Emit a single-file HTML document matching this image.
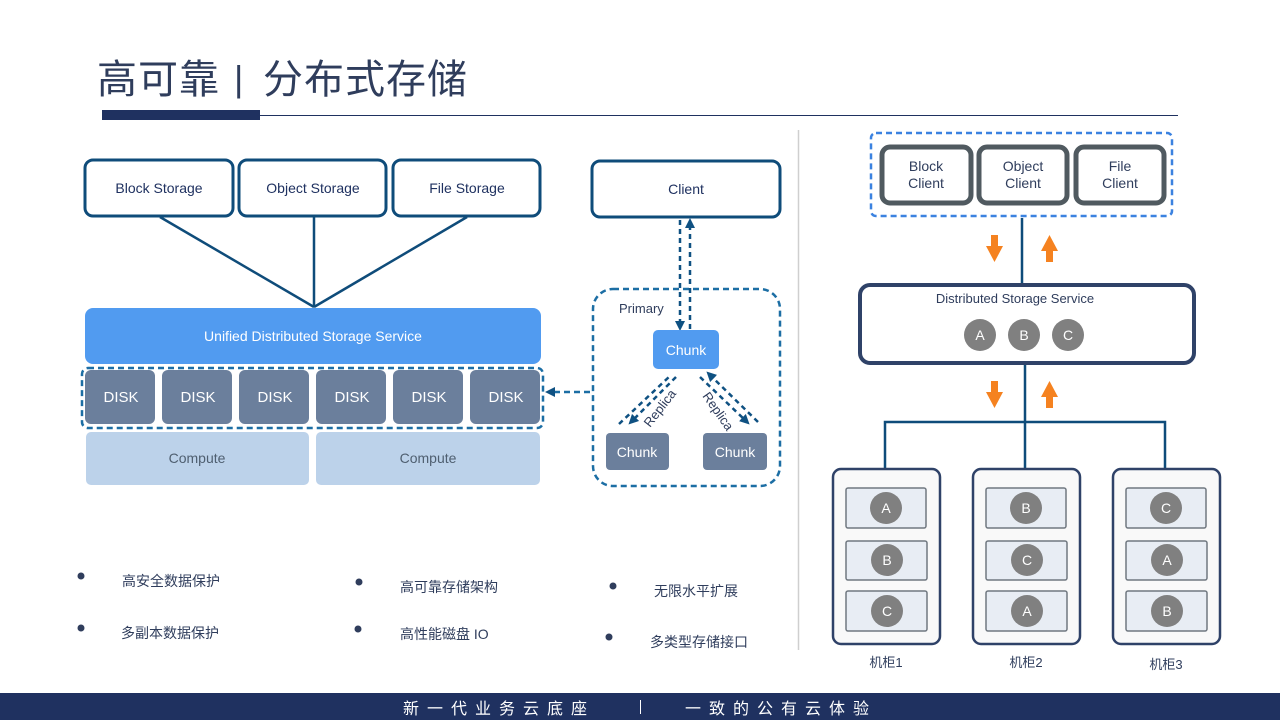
<!DOCTYPE html>
<html><head><meta charset="utf-8"><style>
html,body{margin:0;padding:0;background:#fff;width:1280px;height:720px;overflow:hidden}
svg text{font-family:"Liberation Sans","Noto Sans CJK SC",sans-serif}
</style></head><body>
<svg width="1280" height="720" viewBox="0 0 1280 720" xmlns="http://www.w3.org/2000/svg">
<defs>
<marker id="ah" viewBox="0 0 10 10" refX="5" refY="5" markerWidth="4" markerHeight="4" orient="auto-start-reverse"><path d="M0,0 L10,5 L0,10 z" fill="#0f5182"/></marker>
</defs>
<!-- title -->
<text x="97" y="93" font-size="40" fill="#2f3d5c" letter-spacing="1">高可靠</text>
<text x="234" y="91" font-size="36" fill="#2f3d5c">|</text>
<text x="263" y="93" font-size="40" fill="#2f3d5c" letter-spacing="1">分布式存储</text>
<rect x="102" y="110" width="158" height="10" fill="#1f3160"/>
<line x1="260" y1="115.5" x2="1178" y2="115.5" stroke="#1f3160" stroke-width="1"/>

<!-- left storage boxes -->
<g fill="#fff" stroke="#0f4c7a" stroke-width="3">
<rect x="85" y="160" width="148" height="56" rx="8"/>
<rect x="239" y="160" width="147" height="56" rx="8"/>
<rect x="393" y="160" width="147" height="56" rx="8"/>
</g>
<g font-size="14" fill="#1f3160" text-anchor="middle">
<text x="159" y="193">Block Storage</text>
<text x="313" y="193">Object Storage</text>
<text x="467" y="193">File Storage</text>
</g>
<g stroke="#0f4c7a" stroke-width="2.5">
<line x1="160" y1="217" x2="314" y2="307"/>
<line x1="314" y1="217" x2="314" y2="307"/>
<line x1="467" y1="217" x2="314" y2="307"/>
</g>
<rect x="85" y="308" width="456" height="56" rx="8" fill="#519bf0"/>
<text x="313" y="341" font-size="14" fill="#fff" text-anchor="middle">Unified Distributed Storage Service</text>
<g fill="#6b7f9c">
<rect x="85" y="370" width="70" height="54" rx="6"/>
<rect x="162" y="370" width="70" height="54" rx="6"/>
<rect x="239" y="370" width="70" height="54" rx="6"/>
<rect x="316" y="370" width="70" height="54" rx="6"/>
<rect x="393" y="370" width="70" height="54" rx="6"/>
<rect x="470" y="370" width="70" height="54" rx="6"/>
</g>
<g font-size="15" fill="#fff" text-anchor="middle">
<text x="121" y="402">DISK</text><text x="198" y="402">DISK</text><text x="275" y="402">DISK</text>
<text x="352" y="402">DISK</text><text x="429" y="402">DISK</text><text x="506" y="402">DISK</text>
</g>
<rect x="82" y="368" width="461" height="60" rx="6" fill="none" stroke="#1c6ea4" stroke-width="2.5" stroke-dasharray="6,4"/>
<rect x="86" y="432" width="223" height="53" rx="5" fill="#bcd2ea"/>
<rect x="316" y="432" width="224" height="53" rx="5" fill="#bcd2ea"/>
<text x="197" y="463" font-size="14" fill="#4f5f70" text-anchor="middle">Compute</text>
<text x="428" y="463" font-size="14" fill="#4f5f70" text-anchor="middle">Compute</text>
<line x1="590" y1="392" x2="550" y2="392" stroke="#1c6ea4" stroke-width="2.5" stroke-dasharray="6,4" marker-end="url(#ah)"/>

<!-- client / chunks -->
<rect x="592" y="161" width="188" height="56" rx="8" fill="#fff" stroke="#0f4c7a" stroke-width="3"/>
<text x="686" y="194" font-size="14" fill="#1f3160" text-anchor="middle">Client</text>
<rect x="593" y="289" width="187" height="197" rx="20" fill="none" stroke="#1c6ea4" stroke-width="2.5" stroke-dasharray="6,4"/>
<text x="619" y="313" font-size="13" fill="#2f3d5c">Primary</text>
<line x1="680" y1="220" x2="680" y2="326" stroke="#0f5182" stroke-width="2.5" stroke-dasharray="5,4" marker-end="url(#ah)"/>
<line x1="690" y1="329" x2="690" y2="223" stroke="#0f5182" stroke-width="2.5" stroke-dasharray="5,4" marker-end="url(#ah)"/>
<rect x="653" y="330" width="66" height="39" rx="5" fill="#519bf0"/>
<text x="686" y="355" font-size="14" fill="#fff" text-anchor="middle">Chunk</text>
<rect x="606" y="433" width="63" height="37" rx="4" fill="#6b7f9c"/>
<rect x="703" y="433" width="64" height="37" rx="4" fill="#6b7f9c"/>
<text x="637" y="457" font-size="14" fill="#fff" text-anchor="middle">Chunk</text>
<text x="735" y="457" font-size="14" fill="#fff" text-anchor="middle">Chunk</text>
<g stroke="#0f5182" stroke-width="2.5" stroke-dasharray="5,4">
<line x1="619" y1="424" x2="670" y2="376"/>
<line x1="676" y1="377" x2="632" y2="421" marker-end="url(#ah)"/>
<line x1="758" y1="422" x2="710" y2="375" marker-end="url(#ah)"/>
<line x1="700" y1="377" x2="746" y2="421" marker-end="url(#ah)"/>
</g>
<text transform="translate(650,428) rotate(-52)" font-size="13" fill="#2f3d5c">Replica</text>
<text transform="translate(702,396) rotate(55)" font-size="13" fill="#2f3d5c">Replica</text>

<line x1="798.5" y1="130" x2="798.5" y2="650" stroke="#cfcfcf" stroke-width="1.5"/>

<!-- right -->
<rect x="871" y="133" width="301" height="83" rx="5" fill="none" stroke="#3b82e0" stroke-width="2.5" stroke-dasharray="6,4"/>
<g fill="#fff" stroke="#505a60" stroke-width="5">
<rect x="882" y="147" width="89" height="56" rx="8"/>
<rect x="979" y="147" width="88" height="56" rx="8"/>
<rect x="1076" y="147" width="88" height="56" rx="8"/>
</g>
<g font-size="14" fill="#2f3d5c" text-anchor="middle">
<text x="926" y="171">Block</text><text x="926" y="188">Client</text>
<text x="1023" y="171">Object</text><text x="1023" y="188">Client</text>
<text x="1120" y="171">File</text><text x="1120" y="188">Client</text>
</g>
<line x1="1022" y1="218" x2="1022" y2="283" stroke="#0f4c7a" stroke-width="2.5"/>
<g fill="#f58220">
<path d="M991,235h7v11h5l-8.5,16l-8.5,-16h5z"/>
<path d="M1046,262h7v-11h5l-8.5,-16l-8.5,16h5z"/>
<path d="M991,381h7v11h5l-8.5,16l-8.5,-16h5z"/>
<path d="M1046,408h7v-11h5l-8.5,-16l-8.5,16h5z"/>
</g>
<rect x="860" y="285" width="334" height="78" rx="10" fill="#fff" stroke="#2f4268" stroke-width="4"/>
<text x="1015" y="303" font-size="13" fill="#2f3d5c" text-anchor="middle">Distributed Storage Service</text>
<g fill="#808080"><circle cx="980" cy="335" r="16"/><circle cx="1024" cy="335" r="16"/><circle cx="1068" cy="335" r="16"/></g>
<g font-size="14" fill="#fff" text-anchor="middle"><text x="980" y="340">A</text><text x="1024" y="340">B</text><text x="1068" y="340">C</text></g>
<g stroke="#0f4c7a" stroke-width="2.5" fill="none">
<line x1="1025" y1="365" x2="1025" y2="468"/>
<path d="M885,468V422H1165V468"/>
</g>
<g fill="#f9f9f9" stroke="#2f4268" stroke-width="2.5">
<rect x="833" y="469" width="107" height="175" rx="8"/>
<rect x="973" y="469" width="107" height="175" rx="8"/>
<rect x="1113" y="469" width="107" height="175" rx="8"/>
</g>
<g fill="#e8edf4" stroke="#707880" stroke-width="1.5">
<rect x="846" y="488" width="80" height="40" rx="2"/><rect x="846" y="541" width="81" height="39" rx="2"/><rect x="846" y="591" width="81" height="40" rx="2"/>
<rect x="986" y="488" width="80" height="40" rx="2"/><rect x="986" y="541" width="81" height="39" rx="2"/><rect x="986" y="591" width="81" height="40" rx="2"/>
<rect x="1126" y="488" width="80" height="40" rx="2"/><rect x="1126" y="541" width="81" height="39" rx="2"/><rect x="1126" y="591" width="81" height="40" rx="2"/>
</g>
<g fill="#808080">
<circle cx="886" cy="508" r="16"/><circle cx="887" cy="560" r="16"/><circle cx="887" cy="611" r="16"/>
<circle cx="1026" cy="508" r="16"/><circle cx="1027" cy="560" r="16"/><circle cx="1027" cy="611" r="16"/>
<circle cx="1166" cy="508" r="16"/><circle cx="1167" cy="560" r="16"/><circle cx="1167" cy="611" r="16"/>
</g>
<g font-size="14" fill="#fff" text-anchor="middle">
<text x="886" y="513">A</text><text x="887" y="565">B</text><text x="887" y="616">C</text>
<text x="1026" y="513">B</text><text x="1027" y="565">C</text><text x="1027" y="616">A</text>
<text x="1166" y="513">C</text><text x="1167" y="565">A</text><text x="1167" y="616">B</text>
</g>
<g font-size="13" fill="#2f3d5c" text-anchor="middle">
<text x="886" y="667">机柜1</text><text x="1026" y="667">机柜2</text><text x="1166" y="669">机柜3</text>
</g>

<!-- bullets -->
<g fill="#2f3d5c">
<circle cx="81" cy="576" r="3.5"/><circle cx="81" cy="628" r="3.5"/>
<circle cx="359" cy="582" r="3.5"/><circle cx="358" cy="629" r="3.5"/>
<circle cx="613" cy="586" r="3.5"/><circle cx="609" cy="637" r="3.5"/>
</g>
<g font-size="14" fill="#2f3d5c">
<text x="122" y="586">高安全数据保护</text><text x="121" y="638">多副本数据保护</text>
<text x="400" y="592">高可靠存储架构</text><text x="400" y="639">高性能磁盘 IO</text>
<text x="654" y="596">无限水平扩展</text><text x="650" y="647">多类型存储接口</text>
</g>

<!-- footer -->
<rect x="0" y="693" width="1280" height="27" fill="#1f3160"/>
<text x="403" y="714" font-size="16" fill="#fff" letter-spacing="8">新一代业务云底座</text>
<line x1="640.5" y1="700" x2="640.5" y2="714" stroke="#fff" stroke-width="1"/>
<text x="685" y="714" font-size="16" fill="#fff" letter-spacing="8">一致的公有云体验</text>
</svg>
</body></html>
